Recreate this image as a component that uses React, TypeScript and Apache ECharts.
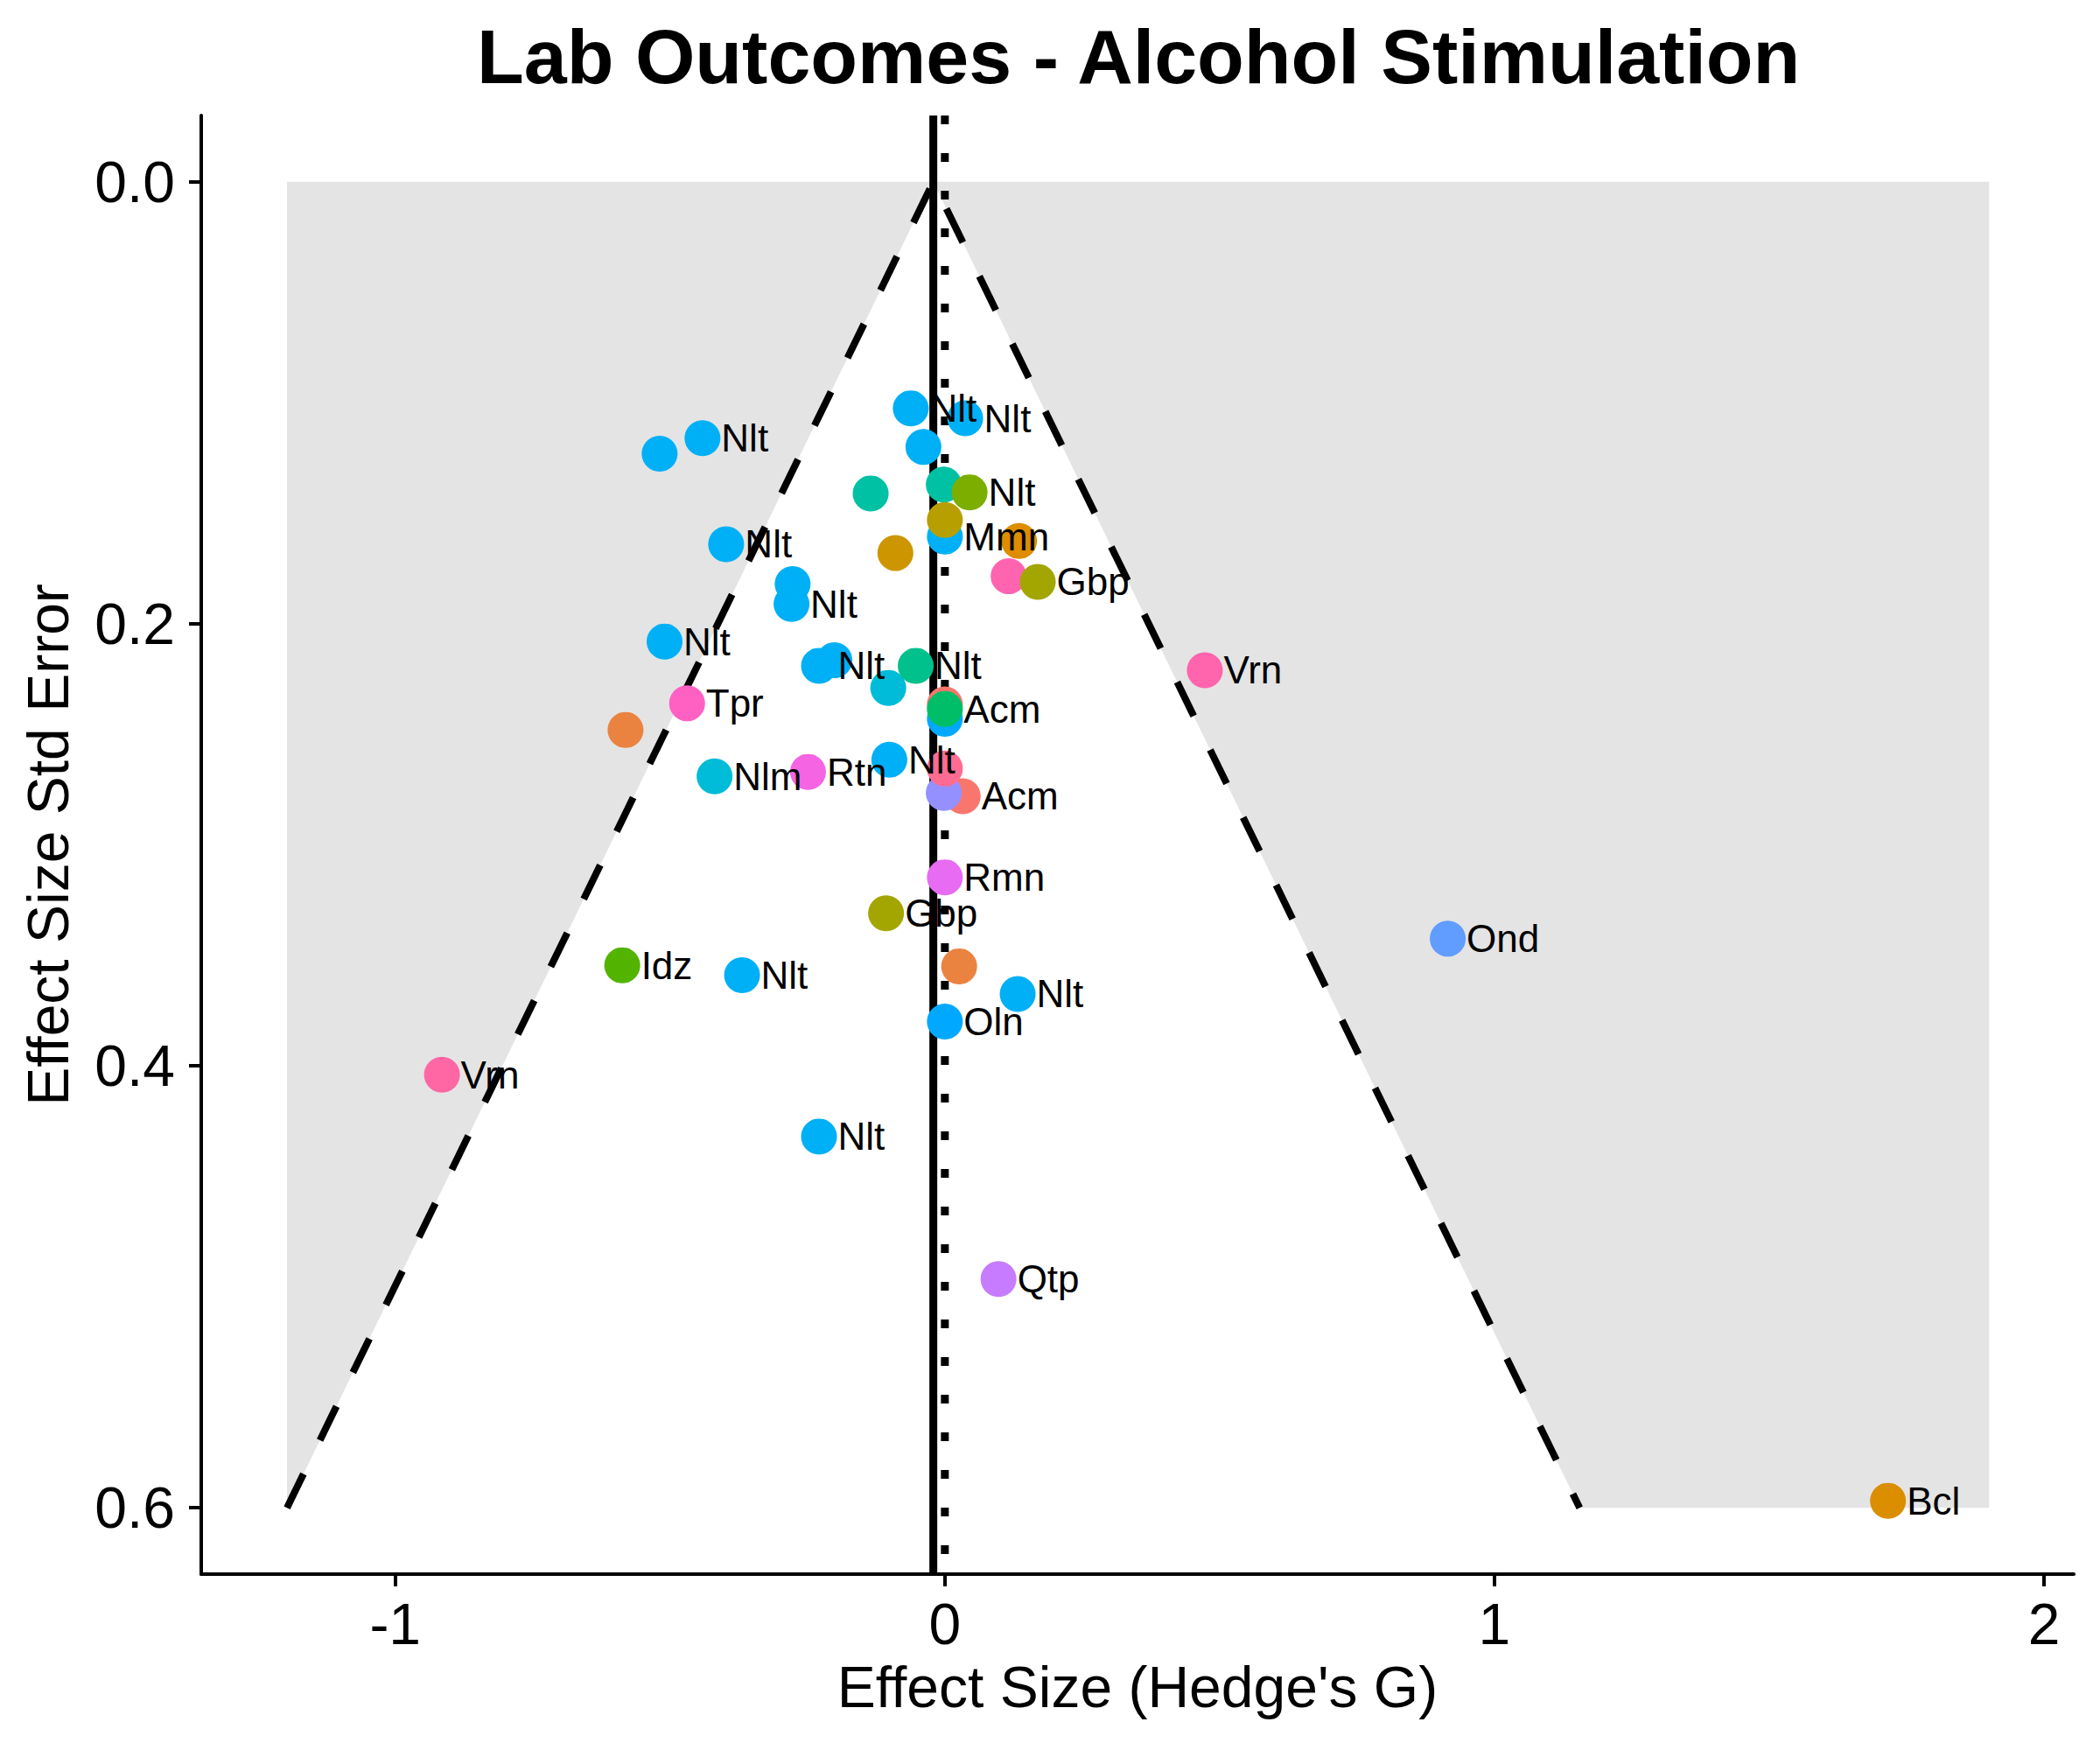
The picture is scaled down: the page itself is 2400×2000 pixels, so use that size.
import { useEffect, useRef } from "react";
import * as echarts from "echarts";

// funnel plot data: effect size (Hedge's G), its std error, drug label, point colour
const studyLabels = [
  "", "Nlt", "", "Nlt", "Nlt", "", "", "Nlt", "Mmn", "", "", "", "Nlt", "", "Gbp",
  "", "Nlt", "Nlt", "", "Nlt", "", "Nlt", "Vrn", "Tpr", "", "", "", "Acm", "Nlt",
  "Nlm", "Rtn", "Acm", "", "", "Rmn", "Gbp", "Idz", "Nlt", "", "Nlt", "Oln", "Ond",
  "Vrn", "Nlt", "Qtp", "Bcl",
];
const effectSizes = [
  -0.519, -0.441, -0.039, -0.062, 0.037, -0.135, -0.002, 0.045, 0.0, 0.0, 0.135,
  -0.09, -0.398, 0.116, 0.169, -0.277, -0.279, -0.51, -0.201, -0.229, -0.103,
  -0.053, 0.473, -0.469, -0.581, 0.0, 0.0, 0.0, -0.101, -0.419, -0.249, 0.0325,
  -0.002, 0.0, 0.0, -0.107, -0.587, -0.369, 0.026, 0.1325, 0.0, 0.915, -0.915,
  -0.229, 0.0976, 1.716,
];
const stdErrors = [
  0.123, 0.116, 0.12, 0.1025, 0.107, 0.141, 0.137, 0.1405, 0.1605, 0.153, 0.1625,
  0.168, 0.164, 0.1785, 0.181, 0.182, 0.191, 0.208, 0.2165, 0.219, 0.229, 0.219,
  0.221, 0.236, 0.248, 0.243, 0.2365, 0.2385, 0.2615, 0.269, 0.267, 0.278, 0.2765,
  0.2655, 0.3147, 0.331, 0.3545, 0.359, 0.355, 0.3675, 0.38, 0.3425, 0.404, 0.432,
  0.4965, 0.5968,
];
const pointColors = [
  "#00B0F6", "#00B0F6", "#00B0F6", "#00B0F6", "#00B0F6", "#00C1A3", "#00C1A3",
  "#7CAE00", "#00B0F6", "#B79F00", "#DE8C00", "#CD9600", "#00B0F6", "#FF64B0",
  "#A3A500", "#00B0F6", "#00B0F6", "#00B0F6", "#00B0F6", "#00B0F6", "#00BCD8",
  "#00C08B", "#FF65AC", "#FF61C3", "#EA8340", "#00A9FF", "#F8766D", "#00BE67",
  "#00B0F6", "#00BCD8", "#F564E3", "#F8766D", "#9590FF", "#FF6C91", "#E76BF3",
  "#A3A500", "#53B400", "#00B0F6", "#EA8340", "#00B0F6", "#00A9FF", "#619CFF",
  "#FF67A4", "#00B0F6", "#C77CFF", "#DB8E00",
];

const xTicks = [-1, 0, 1, 2];
const yTicks = [0, 0.2, 0.4, 0.6];

const pooledEffect = -0.021;
const funnelZ = 1.96;
const funnelSeMax = 0.6;
const shadeRight = 1.9;
const xRange = [-1.353, 2.054];
const yRange = [-0.03, 0.63];

const FONT = "Liberation Sans, Arial, sans-serif";

export default function App() {
  const ref = useRef<HTMLDivElement | null>(null);

  useEffect(() => {
    document.body.style.margin = "0";
    if (!ref.current) return;
    const chart = echarts.init(ref.current, null, { renderer: "svg" });

    const funnelLeft = pooledEffect - funnelZ * funnelSeMax;
    const funnelRight = pooledEffect + funnelZ * funnelSeMax;

    const points = effectSizes.map((x, i) => ({
      value: [x, stdErrors[i]],
      itemStyle: { color: pointColors[i], opacity: 1 },
    }));

    const option: echarts.EChartsOption = {
      animation: false,
      backgroundColor: "#ffffff",
      textStyle: { fontFamily: FONT },
      title: {
        text: "Lab Outcomes - Alcohol Stimulation",
        left: 545,
        top: 20,
        padding: 0,
        textStyle: { fontSize: 88, fontWeight: "bold", color: "#000", fontFamily: FONT },
      },
      grid: { left: 230, right: 30, top: 132, bottom: 201 },
      xAxis: {
        type: "value",
        min: xRange[0],
        max: xRange[1],
        name: "Effect Size (Hedge's G)",
        nameLocation: "middle",
        nameGap: 96,
        nameMoveOverlap: false,
        nameTextStyle: { fontSize: 66, color: "#000", fontFamily: FONT },
        axisLine: { onZero: false, lineStyle: { color: "#000", width: 4 } },
        axisTick: { length: 14, lineStyle: { color: "#000", width: 4 }, customValues: xTicks },
        axisLabel: {
          fontSize: 66,
          color: "#000",
          margin: 24,
          customValues: xTicks,
          formatter: (v: number) => String(v),
        },
        splitLine: { show: false },
      },
      yAxis: {
        type: "value",
        inverse: true,
        min: yRange[0],
        max: yRange[1],
        name: "Effect Size Std Error",
        nameLocation: "middle",
        nameGap: 142,
        nameRotate: 90,
        nameMoveOverlap: false,
        nameTextStyle: { fontSize: 66, color: "#000", fontFamily: FONT },
        axisLine: { onZero: false, lineStyle: { color: "#000", width: 4 } },
        axisTick: { length: 14, lineStyle: { color: "#000", width: 4 }, customValues: yTicks },
        axisLabel: {
          fontSize: 66,
          color: "#000",
          margin: 30,
          customValues: yTicks,
          formatter: (v: number) => v.toFixed(1),
        },
        splitLine: { show: false },
      },
      series: [
        {
          type: "custom",
          z: 1,
          silent: true,
          data: [[pooledEffect, 0]],
          renderItem: (_params: any, api: any) => {
            const c = (x: number, y: number) => api.coord([x, y]);
            return {
              type: "group",
              children: [
                {
                  type: "polygon",
                  shape: {
                    points: [c(funnelLeft, 0), c(pooledEffect, 0), c(funnelLeft, funnelSeMax)],
                  },
                  style: { fill: "#E4E4E4" },
                },
                {
                  type: "polygon",
                  shape: {
                    points: [
                      c(pooledEffect, 0),
                      c(shadeRight, 0),
                      c(shadeRight, funnelSeMax),
                      c(funnelRight, funnelSeMax),
                    ],
                  },
                  style: { fill: "#E4E4E4" },
                },
              ],
            };
          },
        },
        {
          type: "line",
          z: 3,
          silent: true,
          showSymbol: false,
          data: [
            [pooledEffect, yRange[0]],
            [pooledEffect, yRange[1]],
          ],
          lineStyle: { color: "#000", width: 9 },
        },
        {
          type: "line",
          z: 3,
          silent: true,
          showSymbol: false,
          data: [
            [0, yRange[0]],
            [0, yRange[1]],
          ],
          lineStyle: { color: "#000", width: 9, type: [10, 33], cap: "butt" },
        },
        {
          type: "line",
          z: 4,
          silent: true,
          showSymbol: false,
          data: [
            [funnelLeft, funnelSeMax],
            [pooledEffect, 0],
            [funnelRight, funnelSeMax],
          ],
          lineStyle: { color: "#000", width: 8, type: [43, 43], cap: "butt" },
        },
        {
          type: "scatter",
          z: 5,
          symbol: "circle",
          symbolSize: 41,
          data: points,
          emphasis: { disabled: true },
          label: {
            show: true,
            position: "right",
            distance: 1,
            fontSize: 44,
            color: "#000",
            fontFamily: FONT,
            formatter: (p: any) => studyLabels[p.dataIndex],
          },
        },
      ],
    };

    chart.setOption(option);
    return () => chart.dispose();
  }, []);

  return <div ref={ref} style={{ width: 2400, height: 2000 }} />;
}
